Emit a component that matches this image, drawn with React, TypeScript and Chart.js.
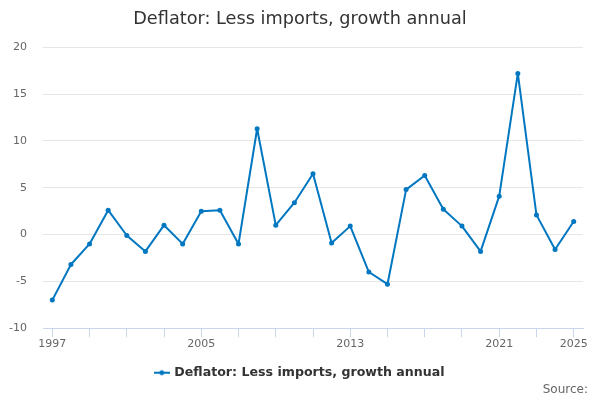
import React, { useEffect, useRef } from "react";
import { Chart, registerables } from "chart.js";

Chart.register(...registerables);

const years: string[] = [
  "1997", "1998", "1999", "2000", "2001", "2002", "2003", "2004", "2005", "2006",
  "2007", "2008", "2009", "2010", "2011", "2012", "2013", "2014", "2015", "2016",
  "2017", "2018", "2019", "2020", "2021", "2022", "2023", "2024", "2025",
];
const growth: number[] = [
  -7.0, -3.2, -1.0, 2.6, -0.1, -1.8, 1.0, -1.0, 2.5, 2.6,
  -1.0, 11.3, 1.0, 3.4, 6.5, -0.9, 0.9, -4.0, -5.3, 4.8,
  6.3, 2.7, 0.9, -1.8, 4.1, 17.2, 2.1, -1.6, 1.4,
];
const shownYearLabels: string[] = ["1997", "2005", "2013", "2021", "2025"];
const seriesName = "Deflator: Less imports, growth annual";
const chartTitle = "Deflator: Less imports, growth annual";
const sourceText = "Source:";
const yTicks = { min: -10, max: 20, step: 5 };

const LINE = "#0077c0";
const FONT = "'DejaVu Sans', sans-serif";

function legendSymbol(): HTMLCanvasElement {
  const c = document.createElement("canvas");
  const s = 2;
  c.width = 16 * s;
  c.height = 8 * s;
  const g = c.getContext("2d")!;
  g.scale(s, s);
  g.strokeStyle = LINE;
  g.lineWidth = 2;
  g.beginPath();
  g.moveTo(0, 4);
  g.lineTo(16, 4);
  g.stroke();
  g.fillStyle = LINE;
  g.beginPath();
  g.arc(8, 4, 2.5, 0, Math.PI * 2);
  g.fill();
  return c;
}

const sourcePlugin = {
  id: "sourceText",
  afterDraw(chart: any) {
    const g = chart.ctx;
    g.save();
    g.font = `normal 12px ${FONT}`;
    g.fillStyle = "#666666";
    g.textAlign = "right";
    g.textBaseline = "middle";
    g.fillText(sourceText, chart.width - 12, 390);
    g.restore();
  },
};

export default function App() {
  const ref = useRef<HTMLCanvasElement | null>(null);

  useEffect(() => {
    if (!ref.current) return;
    const sym = legendSymbol();
    const img = new Image(16, 8);
    img.src = sym.toDataURL();
    const chart = new Chart(ref.current, {
      type: "line",
      data: {
        labels: years,
        datasets: [
          {
            label: seriesName,
            data: growth,
            borderColor: LINE,
            backgroundColor: LINE,
            borderWidth: 2,
            borderJoinStyle: "round",
            borderCapStyle: "round",
            pointRadius: 2.5,
            pointBackgroundColor: LINE,
            pointBorderWidth: 0,
            tension: 0,
          },
        ],
      },
      plugins: [sourcePlugin],
      options: {
        animation: false,
        responsive: true,
        maintainAspectRatio: false,
        devicePixelRatio: 1,
        layout: { padding: { left: 8, right: 8, top: 0, bottom: 11 } },
        plugins: {
          title: {
            display: true,
            text: chartTitle,
            color: "#333333",
            font: { family: FONT, size: 17.7, weight: "normal" },
            padding: { top: 9, bottom: 17 },
          },
          legend: {
            display: true,
            position: "bottom",
            labels: {
              color: "#333333",
              font: { family: FONT, size: 12.6, weight: "bold" },
              usePointStyle: true,
              pointStyle: img,
              boxWidth: 16,
              boxHeight: 8,
              padding: 16,
              generateLabels: (ch: any) => {
                const items = Chart.defaults.plugins.legend.labels.generateLabels(ch);
                return items.map((it: any) => ({ ...it, pointStyle: img }));
              },
            },
          },
          tooltip: { enabled: false },
        },
        scales: {
          x: {
            type: "category",
            offset: true,
            grid: {
              display: true,
              offset: false,
              drawOnChartArea: false,
              drawTicks: true,
              tickLength: 9,
              color: (ctx: any) => (ctx.index % 2 === 0 ? "#ccd6eb" : "rgba(0,0,0,0)"),
            },
            border: { display: true, color: "#ccd6eb", width: 1 },
            ticks: {
              autoSkip: false,
              maxRotation: 0,
              padding: 0,
              color: "#666666",
              font: { family: FONT, size: 11 },
              callback: function (this: any, _v: any, i: number) {
                const l = years[i];
                return shownYearLabels.includes(l) ? l : "";
              },
            },
          },
          y: {
            min: yTicks.min,
            max: yTicks.max,
            afterFit: (s: any) => {
              s.width = 35;
            },
            ticks: {
              stepSize: yTicks.step,
              color: "#666666",
              font: { family: FONT, size: 11 },
              padding: 16,
            },
            grid: { color: "#e6e6e6", drawTicks: false },
            border: { display: false },
          },
          yRightSpacer: {
            type: "linear",
            position: "right",
            display: true,
            afterFit: (s: any) => {
              s.width = 9;
            },
            ticks: { display: false },
            grid: { display: false, drawTicks: false },
            border: { display: false },
          },
        },
      },
    });
    img.onload = () => chart.update();
    return () => chart.destroy();
  }, []);

  return (
    <div style={{ position: "fixed", left: 0, top: 0, width: 600, height: 400, background: "#ffffff" }}>
      <canvas ref={ref} />
    </div>
  );
}
